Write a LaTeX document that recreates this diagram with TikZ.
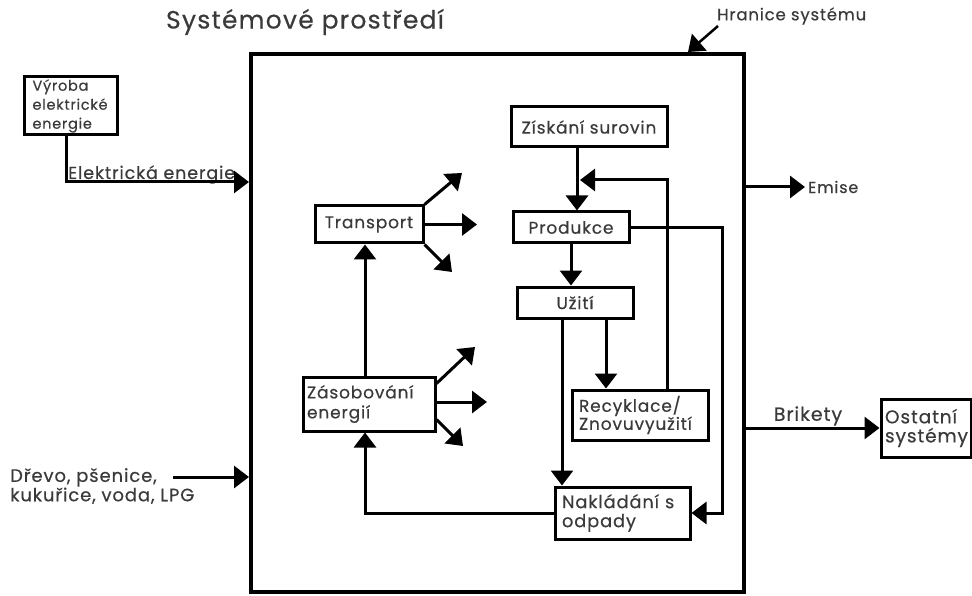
\documentclass[tikz,border=0pt]{standalone}
\usepackage{fontspec}
\setmainfont{Poppins}[LetterSpace=5, FakeBold=0.4]
\usetikzlibrary{arrows.meta,calc}
\definecolor{txt}{HTML}{3A3A3A}
\begin{document}
\begin{tikzpicture}[x=1pt,y=-1pt,
  box/.style={draw, line width=3pt, text=txt, inner ysep=2pt},
  lbl/.style={text=txt, inner sep=2pt},
  fs/.style={font=\fontsize{#1}{#1}\selectfont},
  arr/.style={line width=3pt, -{Triangle[length=15pt,width=22pt]}},
  line join=miter]
\useasboundingbox (0,0) rectangle (972,596);
% system boundary
\node[draw, line width=4pt, minimum width=493, minimum height=538, inner sep=0pt] (sys) at (497.5,323) {};
\node[lbl, fs=25] (title) at (305,22) {Systémové prostředí};
\node[lbl, fs=16.5, anchor=west] (hran) at (715,16) {Hranice systému};
% boxes
\node[box, align=left, text width=76, inner xsep=8.5pt, minimum height=58, font=\fontsize{14.5}{19}\selectfont] (vyr) at (70.5,106) {Výroba\\elektrické\\energie};
\node[box, fs=17, minimum width=156, minimum height=40] (zis) at (589,127) {Získání surovin};
\node[box, fs=17, minimum width=116, minimum height=31] (pro) at (571,227.5) {Produkce};
\node[box, fs=17, minimum width=116, minimum height=31] (uzi) at (575,302.5) {Užití};
\node[box, align=left, text width=122, inner xsep=7pt, minimum height=50, font=\fontsize{17}{18}\selectfont] (rec) at (640,415) {Recyklace/\\Znovuvyužití};
\node[box, align=left, text width=121, inner xsep=7pt, minimum height=52, font=\fontsize{17.8}{19}\selectfont] (nak) at (622.5,513) {Nakládání s\\odpady};
\node[box, fs=17, minimum width=108, minimum height=37] (tra) at (369,224.5) {Transport};
\node[box, align=left, text width=124, inner xsep=4pt, minimum height=54, font=\fontsize{17}{20}\selectfont] (zas) at (369,404) {Zásobování\\energií};
\node[box, align=left, text width=82, inner xsep=4pt, minimum height=58, font=\fontsize{18.5}{19}\selectfont] (ost) at (926,428) {Ostatní\\systémy};
% outside labels
\node[lbl, fs=17.5, anchor=base west] (elab) at (66,179) {Elektrická energie};
\node[lbl, align=left, anchor=west, font=\fontsize{18}{18}\selectfont] (drevo) at (8,486) {Dřevo, pšenice,\\kukuřice, voda, LPG};
\node[lbl, fs=16, anchor=west, inner sep=3pt] (emi) at (805,187) {Emise};
\node[lbl, fs=19] (brik) at (808,416) {Brikety};
% helper coordinates
\coordinate (e1) at (66,182);
\coordinate (d1) at (173,477);
\coordinate (h1) at (718,26);
\coordinate (h2) at (688,0);
\coordinate (x577) at (577,0);
\coordinate (r1) at (667,180);
\coordinate (r2) at (580,180);
\coordinate (x571) at (571,0);
\coordinate (x606) at (606,0);
\coordinate (x562) at (562,0);
\coordinate (x722) at (722,0);
\coordinate (x365) at (365,0);
\coordinate (t1) at (462,173);
\coordinate (t2) at (477,0);
\coordinate (t3) at (452,272);
\coordinate (z1) at (475,347);
\coordinate (z2) at (487,0);
\coordinate (z3) at (463,446);
% connectors
\draw[arr] (vyr.south -| e1) -- (e1) -- (sys.west |- e1);
\draw[arr] (d1) -- (sys.west |- d1);
\draw[arr, line width=2.5pt] (h1) -- (sys.north -| h2);
\draw[arr] (sys.east |- emi) -- (emi.west);
\draw[arr] (sys.east |- ost) -- (ost.west);
\draw[arr] (zis.south -| x577) -- (pro.north -| x577);
\draw[arr] (rec.north -| r1) -- (r1) -- (r2);
\draw[arr] (pro.south -| x571) -- (uzi.north -| x571);
\draw[arr] (uzi.south -| x606) -- (rec.north -| x606);
\draw[arr] (uzi.south -| x562) -- (nak.north -| x562);
\draw[arr] (pro.east) -- (pro.east -| x722) -- (nak.east -| x722) -- (nak.east);
\draw[arr] (nak.west) -| (zas.south -| x365);
\draw[arr] (zas.north -| x365) -- (tra.south -| x365);
\draw[arr] (tra.north east) -- (t1);
\draw[arr] (tra.east) -- (tra.east -| t2);
\draw[arr] (tra.south east) -- (t3);
\draw[arr] ($(zas.north east)+(0,8)$) -- (z1);
\draw[arr] ($(zas.east)+(0,-2)$) -- ($(zas.east -| z2)+(0,-2)$);
\draw[arr] ($(zas.south east)+(0,-13)$) -- (z3);
\end{tikzpicture}
\end{document}
